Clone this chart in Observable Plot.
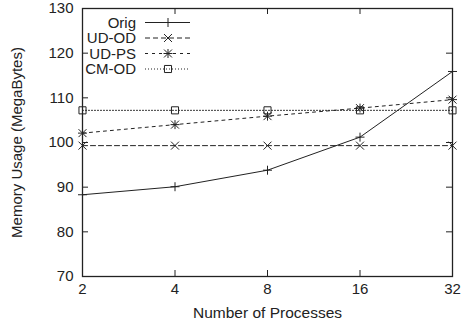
<!DOCTYPE html>
<html>
<head>
<meta charset="utf-8">
<script src="https://cdn.jsdelivr.net/npm/d3@7"></script>
<script src="https://cdn.jsdelivr.net/npm/@observablehq/plot@0.6"></script>
<style>
  html, body { margin: 0; padding: 0; background: #fff; }
  #chart svg { display: block; }
</style>
</head>
<body>
<div id="chart"></div>
<script>
// ---- data ----
const processes = [2, 4, 8, 16, 32];
const seriesNames = ["Orig", "UD-OD", "UD-PS", "CM-OD"];
const orig = [88.3, 90.1, 93.8, 101.2, 115.9];
const udOd = [99.3, 99.3, 99.3, 99.3, 99.3];
const udPs = [102.1, 104.0, 105.9, 107.7, 109.6];
const cmOd = [107.2, 107.2, 107.2, 107.2, 107.2];
const yTicks = [70, 80, 90, 100, 110, 120, 130];
const xLabel = "Number of Processes";
const yLabel = "Memory Usage (MegaBytes)";

const values = [orig, udOd, udPs, cmOd];
const rows = [];
seriesNames.forEach((s, i) => processes.forEach((p, j) => rows.push({series: s, x: p, y: values[i][j]})));
const bySeries = s => rows.filter(d => d.series === s);

const W = 464, H = 325;
const mL = 82, mR = 12, mT = 8, mB = 49;
const ink = "#222";
const dashes = {"Orig": null, "UD-OD": "5,3", "UD-PS": "3,4", "CM-OD": "1,2"};
const symbols = {"Orig": ["plus"], "UD-OD": ["times"], "UD-PS": ["plus", "times"], "CM-OD": ["square"]};
const radius = {"plus": 3.0, "times": 3.7, "square": 4};

const marks = [];
// inward ticks (mirror on all sides)
const innerH = H - mT - mB, innerW = W - mL - mR;
marks.push(Plot.ruleX(processes, {x: d => d, insetTop: innerH - 6, stroke: ink, strokeWidth: 1}));
marks.push(Plot.ruleX(processes, {x: d => d, insetBottom: innerH - 6, stroke: ink, strokeWidth: 1}));
marks.push(Plot.ruleY(yTicks, {y: d => d, insetRight: innerW - 6, stroke: ink, strokeWidth: 1}));
marks.push(Plot.ruleY(yTicks, {y: d => d, insetLeft: innerW - 6, stroke: ink, strokeWidth: 1}));

for (const s of seriesNames) {
  marks.push(Plot.line(bySeries(s), {x: "x", y: "y", stroke: ink, strokeWidth: 1, strokeDasharray: dashes[s]}));
  for (const sym of symbols[s]) {
    marks.push(Plot.dot(bySeries(s), {x: "x", y: "y", symbol: () => sym, r: radius[sym], stroke: ink, fill: "none", strokeWidth: 1}));
  }
}
marks.push(Plot.frame({stroke: ink, strokeWidth: 1.3}));
marks.push(Plot.axisX({ticks: processes, tickFormat: d => String(d), tickSize: 0, tickPadding: 7,
  label: null, fontSize: 15}));
marks.push(Plot.text([xLabel], {text: d => d, frameAnchor: "bottom", dy: 37, lineAnchor: "middle",
  fontSize: 15.5, fill: ink}));
marks.push(Plot.axisY({ticks: yTicks, tickSize: 0, tickPadding: 9, label: null, fontSize: 15}));
marks.push(Plot.text([yLabel], {text: d => d, frameAnchor: "left", dx: -65, rotate: -90,
  textAnchor: "middle", lineAnchor: "middle", fontSize: 15, fill: ink}));

const chart = Plot.plot({
  width: W, height: H,
  marginLeft: mL, marginRight: mR, marginTop: mT, marginBottom: mB,
  style: {fontFamily: "'Liberation Sans', Arial, Helvetica, sans-serif", fontSize: "15px", color: ink, background: "#fff"},
  x: {type: "log", base: 2, domain: [2, 32]},
  y: {domain: [70, 130]},
  symbol: {type: "identity"},
  marks
});
document.getElementById("chart").appendChild(chart);

// ---- legend (inside plot, top-left) ----
const svg = d3.select(chart);
const lg = svg.append("g").attr("class", "legend")
  .attr("font-family", "'Liberation Sans', Arial, Helvetica, sans-serif").attr("font-size", 15).attr("fill", ink);
const symMap = {"plus": d3.symbolPlus, "times": d3.symbolTimes, "square": d3.symbolSquare};
seriesNames.forEach((s, i) => {
  const yy = 22.5 + i * 15.5;
  lg.append("text").attr("x", 136).attr("y", yy).attr("dy", "0.35em").attr("text-anchor", "end").text(s);
  lg.append("line").attr("x1", 145).attr("x2", 190).attr("y1", yy).attr("y2", yy)
    .attr("stroke", ink).attr("stroke-width", 1).attr("stroke-dasharray", dashes[s]);
  for (const sym of symbols[s]) {
    const r = radius[sym];
    lg.append("path").attr("transform", `translate(168,${yy})`)
      .attr("d", d3.symbol(symMap[sym], Math.PI * r * r)())
      .attr("fill", "none").attr("stroke", ink).attr("stroke-width", 1);
  }
});
</script>
</body>
</html>
